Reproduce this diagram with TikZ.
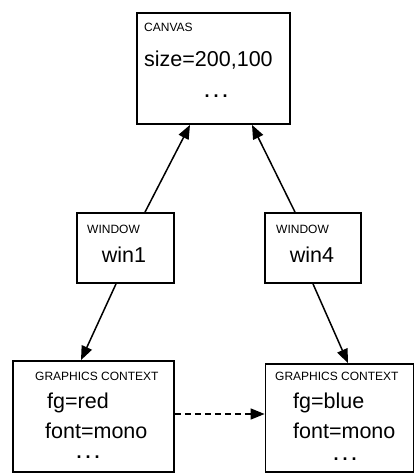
\documentclass[tikz,border=0pt]{standalone}
\usepackage{fontspec}
\setmainfont{Liberation Sans}
\usetikzlibrary{arrows.meta,calc}
\newcommand{\mydots}{.\hspace{4pt}.\hspace{4pt}.}
\begin{document}
\begin{tikzpicture}[x=1pt,y=-1pt,
  box/.style={draw,line width=1.8pt,inner sep=0pt},
  lbl/.style={inner sep=0pt,anchor=base west,font=\fontsize{12}{13}\selectfont},
  big/.style={inner sep=0pt,anchor=base west,font=\fontsize{21.5}{24}\selectfont},
  dots/.style={inner sep=0pt,anchor=base,text height=3pt,text depth=0pt,font=\fontsize{18}{20}\bfseries},
  arr/.style={line width=1.5pt,-{Triangle[length=14pt,width=11pt]}},
  darr/.style={line width=1.5pt,dash pattern=on 6pt off 4pt,-{Triangle[length=14pt,width=11pt]}}]
\useasboundingbox (0,0) rectangle (415,473);
% boxes
\node[box,minimum width=153,minimum height=111] (canvas) at (213.5,68.5) {};
\node[box,minimum width=97,minimum height=70] (win1) at (125.5,248) {};
\node[box,minimum width=96,minimum height=70] (win4) at (313,248) {};
\node[box,minimum width=161,minimum height=111] (gc1) at (93.5,416.5) {};
\node[box,minimum width=148,minimum height=108] (gc2) at (339.5,418) {};
% texts
\node[lbl] (canvaslbl) at (144,32) {CANVAS};
\node[big] (size) at (144,67) {size=200,100};
\node[dots] (cdots) at (216,98) {\mydots};
\node[lbl] (w1lbl) at (87,233) {WINDOW};
\node[big,anchor=base] (w1txt) at (124,262) {win1};
\node[lbl] (w4lbl) at (276,233) {WINDOW};
\node[big,anchor=base] (w4txt) at (312,262) {win4};
\node[lbl] (g1lbl) at (35,380) {GRAPHICS CONTEXT};
\node[big] (g1fg) at (47,408) {fg=red};
\node[big] (g1font) at (45,438) {font=mono};
\node[dots] (g1dots) at (88,458) {\mydots};
\node[lbl] (g2lbl) at (275,380) {GRAPHICS CONTEXT};
\node[big] (g2fg) at (293,408) {fg=blue};
\node[big] (g2font) at (293,438) {font=mono};
\node[dots] (g2dots) at (345,460) {\mydots};
% connectors
\draw[arr] ([xshift=19.5pt]win1.north) -- ([xshift=-23.5pt]canvas.south);
\draw[arr] ([xshift=-18pt]win4.north) -- ([xshift=38.5pt]canvas.south);
\draw[arr] ([xshift=-9.5pt]win1.south) -- ([xshift=-12.5pt]gc1.north);
\draw[arr] (win4.south) -- ([xshift=8.5pt]gc2.north);
\draw[darr] ([yshift=2.5pt]gc1.east) -- ([yshift=2.5pt]gc1.east -| gc2.west);
\end{tikzpicture}
\end{document}
